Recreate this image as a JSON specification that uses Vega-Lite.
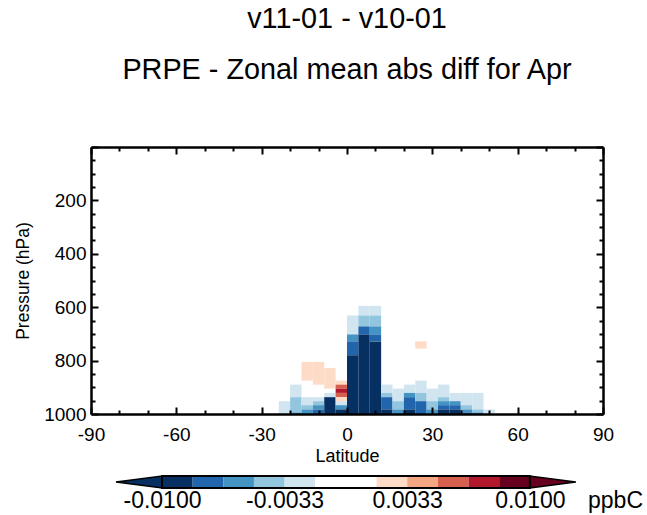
{
  "$schema": "https://vega.github.io/schema/vega-lite/v6.json",
  "padding": {"left": 14, "top": 5, "right": 0, "bottom": 0},
  "background": "white",
  "config": {"view": {"stroke": null}, "font": "Liberation Sans", "axis": {"grid": false}},
  "bounds": "flush",
  "spacing": 62,
  "datasets": {
    "cells": [
      {"lat0": -24, "lat1": -20, "p0": 952, "p1": 1000, "v": -0.0025},
      {"lat0": -20, "lat1": -16, "p0": 890, "p1": 937, "v": -0.0025},
      {"lat0": -20, "lat1": -16, "p0": 937, "p1": 994, "v": -0.004},
      {"lat0": -20, "lat1": -16, "p0": 994, "p1": 1000, "v": -0.006},
      {"lat0": -16, "lat1": -12, "p0": 805, "p1": 875, "v": 0.0025},
      {"lat0": -16, "lat1": -12, "p0": 937, "p1": 967, "v": -0.0025},
      {"lat0": -16, "lat1": -12, "p0": 967, "p1": 983, "v": -0.004},
      {"lat0": -16, "lat1": -12, "p0": 983, "p1": 1000, "v": -0.006},
      {"lat0": -12, "lat1": -8, "p0": 805, "p1": 890, "v": 0.0025},
      {"lat0": -12, "lat1": -8, "p0": 937, "p1": 952, "v": -0.0025},
      {"lat0": -12, "lat1": -8, "p0": 952, "p1": 967, "v": -0.004},
      {"lat0": -12, "lat1": -8, "p0": 967, "p1": 983, "v": -0.006},
      {"lat0": -12, "lat1": -8, "p0": 983, "p1": 1000, "v": -0.0075},
      {"lat0": -8, "lat1": -4, "p0": 828, "p1": 905, "v": 0.0025},
      {"lat0": -8, "lat1": -4, "p0": 921, "p1": 937, "v": -0.0025},
      {"lat0": -8, "lat1": -4, "p0": 937, "p1": 1000, "v": -0.011},
      {"lat0": -4, "lat1": 0, "p0": 875, "p1": 890, "v": 0.0025},
      {"lat0": -4, "lat1": 0, "p0": 890, "p1": 905, "v": 0.006},
      {"lat0": -4, "lat1": 0, "p0": 905, "p1": 921, "v": 0.0075},
      {"lat0": -4, "lat1": 0, "p0": 921, "p1": 937, "v": 0.006},
      {"lat0": -4, "lat1": 0, "p0": 937, "p1": 952, "v": 0.0025},
      {"lat0": -4, "lat1": 0, "p0": 952, "p1": 967, "v": -0.0025},
      {"lat0": -4, "lat1": 0, "p0": 967, "p1": 983, "v": -0.006},
      {"lat0": -4, "lat1": 0, "p0": 983, "p1": 1000, "v": -0.011},
      {"lat0": 0, "lat1": 4, "p0": 631, "p1": 702, "v": -0.0025},
      {"lat0": 0, "lat1": 4, "p0": 702, "p1": 728, "v": -0.006},
      {"lat0": 0, "lat1": 4, "p0": 728, "p1": 780, "v": -0.0075},
      {"lat0": 0, "lat1": 4, "p0": 780, "p1": 1000, "v": -0.011},
      {"lat0": 4, "lat1": 8, "p0": 595, "p1": 631, "v": -0.0025},
      {"lat0": 4, "lat1": 8, "p0": 631, "p1": 672, "v": -0.004},
      {"lat0": 4, "lat1": 8, "p0": 672, "p1": 702, "v": -0.0075},
      {"lat0": 4, "lat1": 8, "p0": 702, "p1": 1000, "v": -0.011},
      {"lat0": 8, "lat1": 12, "p0": 595, "p1": 631, "v": -0.0025},
      {"lat0": 8, "lat1": 12, "p0": 631, "p1": 672, "v": -0.004},
      {"lat0": 8, "lat1": 12, "p0": 672, "p1": 702, "v": -0.006},
      {"lat0": 8, "lat1": 12, "p0": 702, "p1": 728, "v": -0.0075},
      {"lat0": 8, "lat1": 12, "p0": 728, "p1": 1000, "v": -0.011},
      {"lat0": 12, "lat1": 16, "p0": 890, "p1": 921, "v": -0.0025},
      {"lat0": 12, "lat1": 16, "p0": 921, "p1": 937, "v": -0.004},
      {"lat0": 12, "lat1": 16, "p0": 937, "p1": 983, "v": -0.0075},
      {"lat0": 12, "lat1": 16, "p0": 983, "p1": 1000, "v": -0.011},
      {"lat0": 16, "lat1": 20, "p0": 905, "p1": 952, "v": -0.0025},
      {"lat0": 16, "lat1": 20, "p0": 952, "p1": 983, "v": -0.004},
      {"lat0": 16, "lat1": 20, "p0": 983, "p1": 1000, "v": -0.006},
      {"lat0": 20, "lat1": 24, "p0": 890, "p1": 921, "v": -0.0025},
      {"lat0": 20, "lat1": 24, "p0": 921, "p1": 937, "v": -0.006},
      {"lat0": 20, "lat1": 24, "p0": 937, "p1": 983, "v": -0.0075},
      {"lat0": 20, "lat1": 24, "p0": 983, "p1": 1000, "v": -0.011},
      {"lat0": 24, "lat1": 28, "p0": 728, "p1": 755, "v": 0.0025},
      {"lat0": 24, "lat1": 28, "p0": 875, "p1": 921, "v": -0.0025},
      {"lat0": 24, "lat1": 28, "p0": 921, "p1": 952, "v": -0.004},
      {"lat0": 24, "lat1": 28, "p0": 952, "p1": 1000, "v": -0.0075},
      {"lat0": 28, "lat1": 32, "p0": 905, "p1": 952, "v": -0.0025},
      {"lat0": 28, "lat1": 32, "p0": 952, "p1": 983, "v": -0.004},
      {"lat0": 28, "lat1": 32, "p0": 983, "p1": 1000, "v": -0.006},
      {"lat0": 32, "lat1": 36, "p0": 890, "p1": 937, "v": -0.0025},
      {"lat0": 32, "lat1": 36, "p0": 937, "p1": 952, "v": -0.004},
      {"lat0": 32, "lat1": 36, "p0": 952, "p1": 967, "v": -0.006},
      {"lat0": 32, "lat1": 36, "p0": 967, "p1": 983, "v": -0.0075},
      {"lat0": 32, "lat1": 36, "p0": 983, "p1": 1000, "v": -0.011},
      {"lat0": 36, "lat1": 40, "p0": 921, "p1": 952, "v": -0.0025},
      {"lat0": 36, "lat1": 40, "p0": 952, "p1": 967, "v": -0.006},
      {"lat0": 36, "lat1": 40, "p0": 967, "p1": 983, "v": -0.0075},
      {"lat0": 36, "lat1": 40, "p0": 983, "p1": 1000, "v": -0.011},
      {"lat0": 40, "lat1": 44, "p0": 921, "p1": 967, "v": -0.0025},
      {"lat0": 40, "lat1": 44, "p0": 967, "p1": 983, "v": -0.004},
      {"lat0": 40, "lat1": 44, "p0": 983, "p1": 994, "v": -0.006},
      {"lat0": 40, "lat1": 44, "p0": 994, "p1": 1000, "v": -0.0075},
      {"lat0": 44, "lat1": 48, "p0": 921, "p1": 983, "v": -0.0025},
      {"lat0": 44, "lat1": 48, "p0": 983, "p1": 994, "v": -0.004},
      {"lat0": 44, "lat1": 48, "p0": 994, "p1": 1000, "v": -0.006},
      {"lat0": 48, "lat1": 52, "p0": 983, "p1": 1000, "v": -0.0025}
    ],
    "bar": [
      {"lo": -0.01, "hi": -0.008333, "v": -0.009167},
      {"lo": -0.008333, "hi": -0.006667, "v": -0.0075},
      {"lo": -0.006667, "hi": -0.005, "v": -0.005833},
      {"lo": -0.005, "hi": -0.003333, "v": -0.004167},
      {"lo": -0.003333, "hi": -0.001667, "v": -0.0025},
      {"lo": -0.001667, "hi": 0, "v": -0.000833},
      {"lo": 0, "hi": 0.001667, "v": 0.000833},
      {"lo": 0.001667, "hi": 0.003333, "v": 0.0025},
      {"lo": 0.003333, "hi": 0.005, "v": 0.004167},
      {"lo": 0.005, "hi": 0.006667, "v": 0.005833},
      {"lo": 0.006667, "hi": 0.008333, "v": 0.0075},
      {"lo": 0.008333, "hi": 0.01, "v": 0.009167}
    ],
    "tri": [
      {"x": -0.0125, "ylo": 0.5, "yhi": 0.5, "side": "L"},
      {"x": -0.01, "ylo": 0, "yhi": 1, "side": "L"},
      {"x": 0.01, "ylo": 0, "yhi": 1, "side": "R"},
      {"x": 0.0125, "ylo": 0.5, "yhi": 0.5, "side": "R"}
    ]
  },
  "vconcat": [
    {
      "width": 512,
      "height": 267,
      "title": {
        "text": ["v11-01 - v10-01", "PRPE - Zonal mean abs diff for Apr"],
        "anchor": "middle",
        "frame": "group",
        "fontSize": 28.8,
        "fontWeight": "normal",
        "font": "Liberation Sans",
        "color": "black",
        "lineHeight": 51,
        "offset": 53
      },
      "layer": [
        {
          "data": {"name": "cells"},
          "mark": {"type": "rect"},
          "encoding": {
            "x": {
              "field": "lat0", "type": "quantitative",
              "scale": {"domain": [-90, 90], "nice": false, "zero": false},
              "axis": {
                "orient": "bottom",
                "values": [-90, -80, -70, -60, -50, -40, -30, -20, -10, 0, 10, 20, 30, 40, 50, 60, 70, 80, 90],
                "labelExpr": "datum.value % 30 === 0 ? '' + datum.value : ''",
                "tickSize": {"condition": {"test": "datum.value % 30 === 0", "value": -7}, "value": -4},
                "tickWidth": 2, "tickColor": "black",
                "domainColor": "black", "domainWidth": 2.5,
                "labelFontSize": 19, "labelColor": "black", "labelPadding": 18,
                "labelFlush": false, "labelOverlap": false, "labelBound": false,
                "title": "Latitude", "titleFontSize": 18, "titleFontWeight": "normal", "titleColor": "black", "titlePadding": 0,
                "zindex": 1
              }
            },
            "x2": {"field": "lat1"},
            "y": {
              "field": "p0", "type": "quantitative",
              "scale": {"domain": [0, 1000], "reverse": true, "nice": false, "zero": false},
              "axis": {
                "orient": "left",
                "values": [0, 50, 100, 150, 200, 250, 300, 350, 400, 450, 500, 550, 600, 650, 700, 750, 800, 850, 900, 950, 1000],
                "labelExpr": "datum.value % 200 === 0 && datum.value > 0 ? '' + datum.value : ''",
                "tickSize": {"condition": {"test": "datum.value % 200 === 0", "value": -7}, "value": -4},
                "tickWidth": 2, "tickColor": "black",
                "domainColor": "black", "domainWidth": 2.5,
                "labelFontSize": 19, "labelColor": "black", "labelPadding": 12,
                "labelFlush": false, "labelOverlap": false, "labelBound": false,
                "title": "Pressure (hPa)", "titleFontSize": 17.5, "titleFontWeight": "normal", "titleColor": "black", "titlePadding": 11,
                "zindex": 1
              }
            },
            "y2": {"field": "p1"},
            "color": {
              "field": "v", "type": "quantitative",
              "scale": {
                "type": "threshold",
                "domain": [-0.008333, -0.006667, -0.005, -0.003333, -0.001667, 0.001667, 0.003333, 0.005, 0.006667, 0.008333],
                "range": ["#053061", "#2166ac", "#4393c3", "#92c5de", "#d1e5f0", "#ffffff", "#fddbc7", "#f4a582", "#d6604d", "#b2182b", "#67001f"]
              },
              "legend": null
            }
          }
        },
        {
          "data": {"name": "cells"},
          "mark": {"type": "rect", "opacity": 0},
          "encoding": {
            "x": {
              "field": "lat0", "type": "quantitative",
              "axis": {
                "orient": "top",
                "values": [-90, -80, -70, -60, -50, -40, -30, -20, -10, 0, 10, 20, 30, 40, 50, 60, 70, 80, 90],
                "labels": false, "title": null,
                "tickSize": {"condition": {"test": "datum.value % 30 === 0", "value": -7}, "value": -4},
                "tickWidth": 2, "tickColor": "black",
                "domainColor": "black", "domainWidth": 2.5, "zindex": 1
              }
            },
            "y": {
              "field": "p0", "type": "quantitative",
              "axis": {
                "orient": "right",
                "values": [0, 50, 100, 150, 200, 250, 300, 350, 400, 450, 500, 550, 600, 650, 700, 750, 800, 850, 900, 950, 1000],
                "labels": false, "title": null,
                "tickSize": {"condition": {"test": "datum.value % 200 === 0", "value": -7}, "value": -4},
                "tickWidth": 2, "tickColor": "black",
                "domainColor": "black", "domainWidth": 2.5, "zindex": 1
              }
            }
          }
        }
      ],
      "resolve": {"axis": {"x": "independent", "y": "independent"}}
    },
    {
      "width": 540,
      "height": 12,
      "layer": [
        {
          "data": {"name": "bar"},
          "mark": {"type": "rect"},
          "encoding": {
            "x": {
              "field": "lo", "type": "quantitative",
              "scale": {"domain": [-0.013859, 0.0155], "nice": false, "zero": false},
              "axis": {
                "orient": "bottom",
                "values": [-0.01, -0.003333, 0.003333, 0.01, 0.01463],
                "labelExpr": "datum.value > 0.012 ? 'ppbC' : (datum.value < 0 ? '-' : '') + format(abs(datum.value), '.4f')",
                "domain": false, "ticks": false,
                "labelFontSize": 23, "labelColor": "black", "labelPadding": 1.5,
                "labelFlush": false, "labelOverlap": false, "labelBound": false,
                "title": null
              }
            },
            "x2": {"field": "hi"},
            "y": {"datum": 0, "type": "quantitative", "scale": {"domain": [0, 1], "nice": false, "zero": false}, "axis": null},
            "y2": {"datum": 1},
            "color": {
              "field": "v", "type": "quantitative",
              "scale": {
                "type": "threshold",
                "domain": [-0.008333, -0.006667, -0.005, -0.003333, -0.001667, 0.001667, 0.003333, 0.005, 0.006667, 0.008333],
                "range": ["#053061", "#2166ac", "#4393c3", "#92c5de", "#d1e5f0", "#ffffff", "#fddbc7", "#f4a582", "#d6604d", "#b2182b", "#67001f"]
              },
              "legend": null
            }
          }
        },
        {
          "data": {"name": "tri"},
          "transform": [{"filter": "datum.side === 'L'"}],
          "mark": {"type": "area", "fill": "#053061", "stroke": "black", "strokeWidth": 1.5},
          "encoding": {
            "x": {"field": "x", "type": "quantitative"},
            "y": {"field": "ylo", "type": "quantitative"},
            "y2": {"field": "yhi"}
          }
        },
        {
          "data": {"name": "tri"},
          "transform": [{"filter": "datum.side === 'R'"}],
          "mark": {"type": "area", "fill": "#67001f", "stroke": "black", "strokeWidth": 1.5},
          "encoding": {
            "x": {"field": "x", "type": "quantitative"},
            "y": {"field": "ylo", "type": "quantitative"},
            "y2": {"field": "yhi"}
          }
        },
        {
          "data": {"values": [{}]},
          "mark": {"type": "rect", "fill": null, "fillOpacity": 0, "stroke": "black", "strokeWidth": 2},
          "encoding": {
            "x": {"datum": -0.01, "type": "quantitative"},
            "x2": {"datum": 0.01},
            "y": {"datum": 0, "type": "quantitative"},
            "y2": {"datum": 1}
          }
        }
      ]
    }
  ]
}
